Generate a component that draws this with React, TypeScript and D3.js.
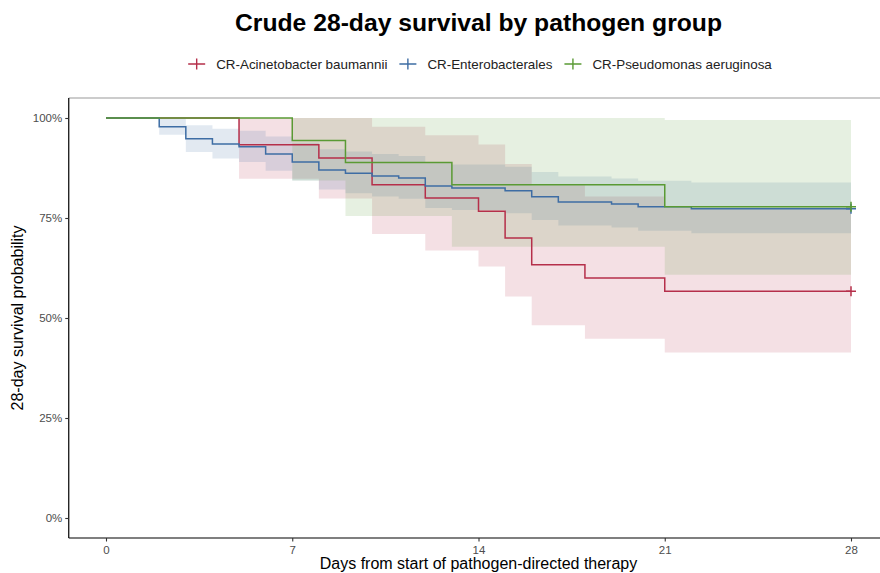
import React, { useRef, useEffect } from 'react'
import * as d3 from 'd3'

// Kaplan-Meier estimates (days, survival, 95% CI)
const redTime = [0, 5, 8, 10, 12, 14, 15, 16, 18, 21, 28]
const redSurv = [1, 0.933, 0.9, 0.833, 0.8, 0.767, 0.7, 0.633, 0.6, 0.567, 0.567]
const redUpper = [1, 1, 1, 0.978, 0.957, 0.934, 0.885, 0.832, 0.804, 0.775, 0.775]
const redLower = [1, 0.848, 0.799, 0.71, 0.669, 0.629, 0.554, 0.482, 0.448, 0.414, 0.414]

const blueTime = [0, 2, 3, 4, 5, 6, 7, 8, 9, 10, 11, 12, 13, 15, 16, 17, 19, 20, 22, 28]
const blueSurv = [1, 0.978, 0.948, 0.935, 0.928, 0.91, 0.89, 0.87, 0.862, 0.855, 0.85, 0.83, 0.825, 0.818, 0.803, 0.79, 0.785, 0.778, 0.773, 0.773]
const blueUpper = [1, 0.998, 0.982, 0.973, 0.968, 0.954, 0.938, 0.922, 0.916, 0.91, 0.905, 0.888, 0.884, 0.878, 0.865, 0.854, 0.849, 0.843, 0.839, 0.839]
const blueLower = [1, 0.958, 0.915, 0.899, 0.89, 0.868, 0.844, 0.821, 0.812, 0.804, 0.798, 0.775, 0.77, 0.762, 0.745, 0.731, 0.726, 0.718, 0.712, 0.712]

const greenTime = [0, 7, 9, 13, 21, 28]
const greenSurv = [1, 0.944, 0.889, 0.833, 0.778, 0.778]
const greenUpper = [1, 1, 1, 1, 0.995, 0.995]
const greenLower = [1, 0.844, 0.755, 0.678, 0.608, 0.608]

const groupNames = ['CR-Acinetobacter baumannii', 'CR-Enterobacterales', 'CR-Pseudomonas aeruginosa']
const groupColors = ['#b52f4a', '#3e6da4', '#5a9a34']
const xTicks = [0, 7, 14, 21, 28]
const yTicks = [0, 0.25, 0.5, 0.75, 1]

const FONT = '"Liberation Sans", Arial, sans-serif'

export default function App() {
  const svgRef = useRef<SVGSVGElement>(null)

  useEffect(() => {
    const width = 880
    const height = 573
    const svg = d3.select(svgRef.current)
    svg.selectAll('*').remove()
    svg.attr('width', width).attr('height', height)

    const x = d3.scaleLinear().domain([0, 28]).range([106, 851])
    const y = d3.scaleLinear().domain([0, 1]).range([518, 118])
    const left = x(-1.4)
    const right = x(29.4)
    const top = y(1.05)
    const bottom = y(-0.05)

    const groups = [
      { t: redTime, s: redSurv, u: redUpper, l: redLower },
      { t: blueTime, s: blueSurv, u: blueUpper, l: blueLower },
      { t: greenTime, s: greenSurv, u: greenUpper, l: greenLower },
    ].map((g, i) => ({
      color: groupColors[i],
      pts: g.t.map((t, j) => ({ t, s: g.s[j], u: g.u[j], l: g.l[j] })),
    }))

    // panel top border
    svg.append('line')
      .attr('x1', left).attr('x2', width).attr('y1', top).attr('y2', top)
      .attr('stroke', '#9a9a9a').attr('stroke-width', 1.2)

    // confidence bands
    const area = d3.area<any>()
      .x(d => x(d.t)).y0(d => y(d.l)).y1(d => y(d.u))
      .curve(d3.curveStepAfter)
    groups.forEach(g => {
      svg.append('path').attr('d', area(g.pts))
        .attr('fill', g.color).attr('fill-opacity', 0.15)
    })

    // survival curves
    const line = d3.line<any>().x(d => x(d.t)).y(d => y(d.s)).curve(d3.curveStepAfter)
    groups.forEach(g => {
      svg.append('path').attr('d', line(g.pts))
        .attr('fill', 'none').attr('stroke', g.color).attr('stroke-width', 1.5)
      const last = g.pts[g.pts.length - 1]
      const cx = x(last.t), cy = y(last.s)
      svg.append('path')
        .attr('d', `M${cx - 5},${cy}H${cx + 5}M${cx},${cy - 5}V${cy + 5}`)
        .attr('stroke', g.color).attr('stroke-width', 1.5)
    })

    // axes
    const yAxis = svg.append('g').attr('transform', `translate(${left},0)`)
      .call(d3.axisLeft(y).tickValues(yTicks).tickFormat(d3.format('.0%')).tickSizeOuter(0).tickSize(3.5).tickPadding(3))
    yAxis.select('.domain').attr('d', `M0,${top}V${bottom}`).attr('stroke', '#000').attr('stroke-width', 1.2)
    const xAxis = svg.append('g').attr('transform', `translate(0,${bottom})`)
      .call(d3.axisBottom(x).tickValues(xTicks).tickSizeOuter(0).tickSize(3.5).tickPadding(4))
    xAxis.select('.domain').attr('d', `M${left},0H${width}`).attr('stroke', '#000').attr('stroke-width', 1.2)
    svg.selectAll('.tick line').attr('stroke', '#333').attr('stroke-width', 1.1)
    svg.selectAll('.tick text').attr('fill', '#4d4d4d').style('font-family', FONT).style('font-size', '11.5px')

    // axis titles
    svg.append('text')
      .attr('x', (left + right) / 2).attr('y', 568.5)
      .attr('text-anchor', 'middle').style('font-family', FONT).style('font-size', '16px')
      .text('Days from start of pathogen-directed therapy')
    svg.append('text')
      .attr('transform', `translate(23,${(top + bottom) / 2}) rotate(-90)`)
      .attr('text-anchor', 'middle').style('font-family', FONT).style('font-size', '16px')
      .text('28-day survival probability')

    // title
    svg.append('text')
      .attr('x', (left + right) / 2).attr('y', 31)
      .attr('text-anchor', 'middle').style('font-family', FONT).style('font-size', '24.7px')
      .style('font-weight', 'bold')
      .text('Crude 28-day survival by pathogen group')

    // legend
    const legend = svg.append('g')
    let cursor = 0
    groupNames.forEach((name, i) => {
      const item = legend.append('g').attr('transform', `translate(${cursor},0)`)
      item.append('path')
        .attr('d', 'M0,0H17M8.5,-5.5V5.5')
        .attr('stroke', groupColors[i]).attr('stroke-width', 1.4)
      const txt = item.append('text')
        .attr('x', 28).attr('y', 4.8)
        .style('font-family', FONT).style('font-size', '13.4px').attr('fill', '#222')
        .text(name)
      const w = (txt.node() as SVGTextElement).getComputedTextLength()
      cursor += 28 + w + 12
    })
    const total = cursor - 12
    legend.attr('transform', `translate(${(left + right) / 2 - total / 2 + 1.5},64)`)
  }, [])

  return (
    <svg ref={svgRef} style={{ position: 'absolute', left: 0, top: 0, background: '#fff' }}></svg>
  )
}
